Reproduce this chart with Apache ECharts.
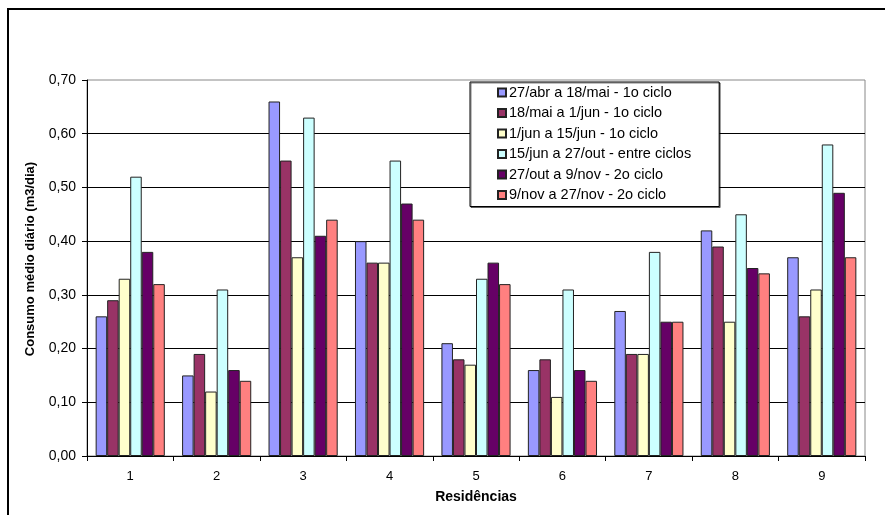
<!DOCTYPE html>
<html>
<head>
<meta charset="utf-8">
<script src="https://cdn.jsdelivr.net/npm/echarts@6/dist/echarts.min.js"></script>
<style>
  html, body { margin: 0; padding: 0; background: #fff; }
  #chart { width: 885px; height: 515px; }
</style>
</head>
<body>
<div id="chart"></div>
<script>
// Residences on the horizontal axis
const residencias = ['1', '2', '3', '4', '5', '6', '7', '8', '9'];

// Period names shown in the legend
const periodos = [
  '27/abr a 18/mai - 1o ciclo',
  '18/mai a 1/jun - 1o ciclo',
  '1/jun a 15/jun - 1o ciclo',
  '15/jun a 27/out - entre ciclos',
  '27/out a 9/nov - 2o ciclo',
  '9/nov a 27/nov - 2o ciclo'
];

// Average daily consumption (m3/dia), one array per period
const abrMai = [0.26, 0.15, 0.66, 0.40, 0.21, 0.16, 0.27, 0.42, 0.37];
const maiJun = [0.29, 0.19, 0.55, 0.36, 0.18, 0.18, 0.19, 0.39, 0.26];
const junJun = [0.33, 0.12, 0.37, 0.36, 0.17, 0.11, 0.19, 0.25, 0.31];
const junOut = [0.52, 0.31, 0.63, 0.55, 0.33, 0.31, 0.38, 0.45, 0.58];
const outNov = [0.38, 0.16, 0.41, 0.47, 0.36, 0.16, 0.25, 0.35, 0.49];
const novNov = [0.32, 0.14, 0.44, 0.44, 0.32, 0.14, 0.25, 0.34, 0.37];

const valores = [abrMai, maiJun, junJun, junOut, outNov, novNov];
const cores = ['#9999FF', '#993366', '#FFFFCC', '#CCFFFF', '#660066', '#FF8080'];

const fonte = 'Liberation Sans, Arial, sans-serif';

const chart = echarts.init(document.getElementById('chart'), null, { renderer: 'canvas' });

chart.setOption({
  backgroundColor: '#ffffff',
  animation: false,
  textStyle: { fontFamily: fonte },
  graphic: [{
    type: 'rect',
    shape: { x: 8, y: 9, width: 900, height: 530 },
    style: { fill: 'none', stroke: '#000', lineWidth: 2 },
    silent: true
  }],
  grid: {
    left: 87, right: 20, top: 80, bottom: 59,
    show: true, borderColor: '#888', borderWidth: 1, backgroundColor: 'transparent'
  },
  legend: {
    orient: 'vertical',
    left: 470, top: 82,
    padding: [3, 28, 4, 27],
    itemWidth: 8, itemHeight: 8, itemGap: 5.5,
    backgroundColor: '#fff',
    borderColor: '#000', borderWidth: 1,
    shadowColor: 'rgba(0,0,0,0.5)', shadowOffsetX: 1, shadowOffsetY: 1,
    icon: 'rect',
    textStyle: { fontFamily: fonte, fontSize: 14.5, color: '#000', padding: [0, 0, 0, -2] },
    data: periodos
  },
  xAxis: {
    type: 'category',
    data: residencias,
    boundaryGap: true,
    name: 'Residências',
    nameLocation: 'middle',
    nameGap: 34,
    nameTextStyle: { fontFamily: fonte, fontSize: 14, fontWeight: 'bold', color: '#000' },
    axisLine: { lineStyle: { color: '#000', width: 1 } },
    axisTick: { show: true, length: 5, lineStyle: { color: '#000' } },
    axisLabel: { fontFamily: fonte, fontSize: 13, color: '#000', margin: 14 },
    splitLine: { show: false }
  },
  yAxis: {
    type: 'value',
    min: 0, max: 0.7, interval: 0.1,
    name: 'Consumo médio diário (m3/dia)',
    nameLocation: 'middle',
    nameGap: 50,
    nameRotate: 90,
    nameTextStyle: { fontFamily: fonte, fontSize: 13, fontWeight: 'bold', color: '#000', padding: [0, 0, 0, 18] },
    axisLine: { show: true, lineStyle: { color: '#000', width: 1 } },
    axisTick: { show: true, length: 5, lineStyle: { color: '#000' } },
    axisLabel: {
      fontFamily: fonte, fontSize: 14, color: '#000', margin: 11,
      formatter: v => v.toFixed(2).replace('.', ',')
    },
    splitLine: { show: true, showMinLine: false, showMaxLine: false, lineStyle: { color: '#000', width: 1 } }
  },
  series: periodos.map((nome, i) => ({
    name: nome,
    type: 'bar',
    data: valores[i],
    barGap: '0%',
    barCategoryGap: '20%',
    itemStyle: { color: cores[i], borderColor: '#222', borderWidth: 1 }
  }))
});
</script>
</body>
</html>
